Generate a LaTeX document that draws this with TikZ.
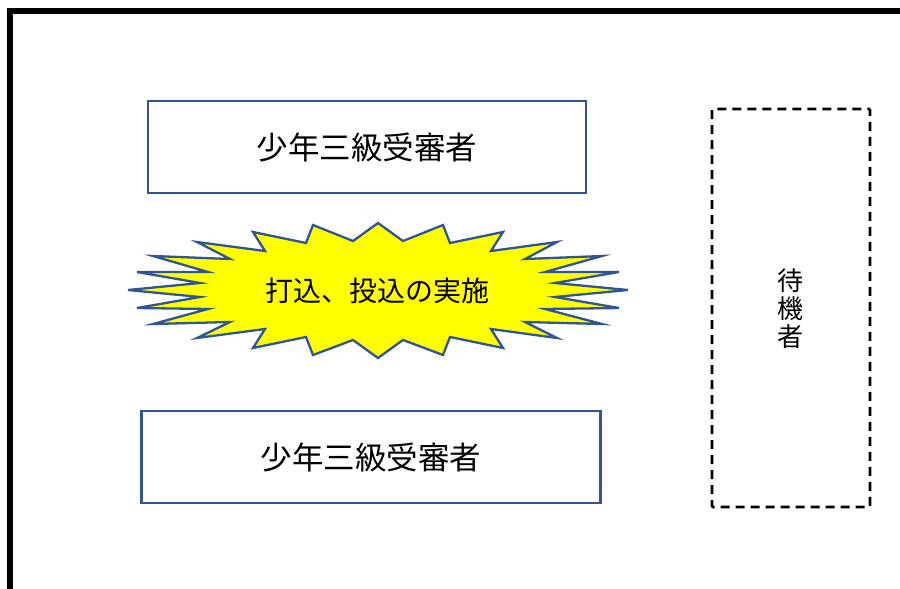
\documentclass[tikz,border=0pt]{standalone}
\usepackage{fontspec}
\newfontfamily\jp{Noto Sans CJK JP}
\definecolor{shapeblue}{HTML}{2F5597}
\definecolor{burst}{HTML}{FFFF00}
\begin{document}
\begin{tikzpicture}[x=1pt,y=-1pt,
  boxstyle/.style={draw=shapeblue,line width=2.3pt,fill=white,font=\jp\fontsize{31.5}{36}\selectfont},
  waitstyle/.style={draw=black,line width=2.8pt,dash pattern=on 9pt off 6pt,rounded corners=1pt},
  label/.style={font=\jp\fontsize{28}{32}\selectfont,inner sep=0pt}]
\useasboundingbox (0,0) rectangle (900,589);
% outer frame
\draw[line width=5.5pt] (10,592) -- (10,11) -- (903,11);
% boxes
\node[boxstyle,minimum width=438pt,minimum height=92pt,inner sep=0pt] (top) at (367,147) {少年三級受審者};
\node[boxstyle,minimum width=459pt,minimum height=92pt,inner sep=0pt] (bottom) at (371,457) {少年三級受審者};
% waiting area
\draw[waitstyle] (712,109) rectangle (870,507);
\node[font=\jp\fontsize{26}{28}\selectfont,align=center,inner sep=0pt] (wait) at (790,309) {待\\機\\者};
% starburst
\draw[shapeblue,line width=2.3pt,fill=burst,line join=miter]
 (378,223) -- (403,241) -- (443,225) -- (450,243) -- (503,232) -- (491,251) -- (557,242) -- (525,259) -- (602,256) -- (545,272) -- (619,272) -- (555,283) -- (628,290)
 -- (555,297) -- (619,308) -- (545,309) -- (602,324) -- (525,322) -- (557,338) -- (491,329) -- (503,348) -- (450,337) -- (443,355) -- (403,340) -- (378,358)
 -- (353,340) -- (313,355) -- (306,337) -- (253,348) -- (265,329) -- (197,338) -- (230,322) -- (153,324) -- (208,309) -- (137,308) -- (200,297) -- (128,290)
 -- (200,283) -- (137,272) -- (208,272) -- (153,256) -- (230,259) -- (197,242) -- (265,251) -- (253,232) -- (306,243) -- (313,225) -- (353,241) -- cycle;
\node[label] (act) at (377,291) {打込、投込の実施};
\end{tikzpicture}
\end{document}
